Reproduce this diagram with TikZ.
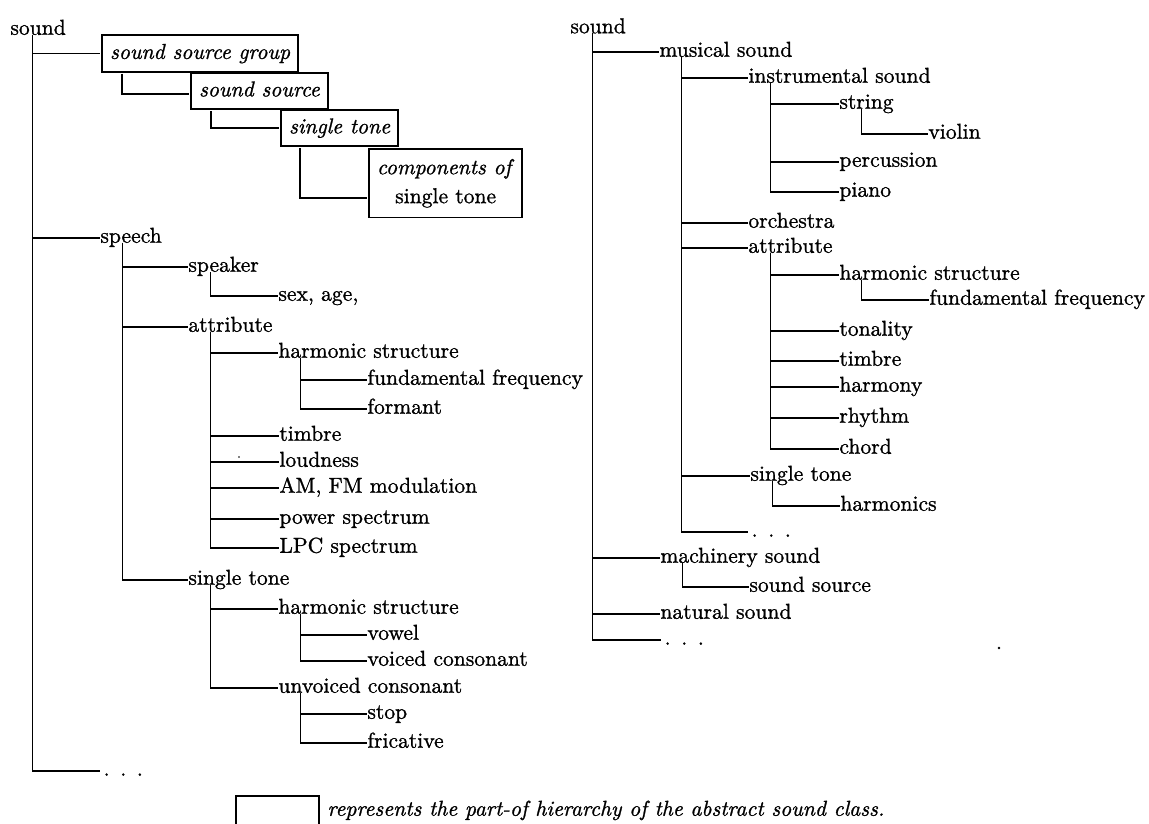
\documentclass[tikz,border=0pt]{standalone}
\usepackage{fontspec}
\setmainfont{Latin Modern Roman}[FakeBold=1.1]
\newcommand\moredots{\hskip1.5pt.\hskip4.9pt.\hskip4.9pt.}
\begin{document}
\begin{tikzpicture}[x=1pt,y=1pt,
  lbl/.style={anchor=west, inner sep=0pt, text height=6.4pt, text depth=2pt,
    scale=2.16, transform shape, font=\fontsize{10}{12}\selectfont},
  part/.style={draw, line width=1.9pt, anchor=west, inner xsep=3.7pt, inner ysep=3.9pt,
    text height=7pt, text depth=2pt, scale=2.16, transform shape,
    font=\fontsize{10}{12}\selectfont\itshape},
  link/.style={line width=1.8pt}]
\useasboundingbox (0,0) rectangle (1149,-824);

% ---------- left tree ----------
\node[lbl] (soundL) at (10,-30) {sound};
\node[part] (grp) at (100,-53.5) {sound source group};
\node[part] (src) at (189,-91) {sound source};
\node[part] (one) at (279,-128) {single tone};
\node[part, anchor=north west, align=center, inner ysep=4.6pt, text height=, text depth=,
  font=\fontsize{10}{13.4}\selectfont] (comp) at (367,-147)
  {\textit{components of}\\single tone};

\node[lbl] (speech) at (100,-238) {speech};
\node[lbl] (speaker) at (188,-267) {speaker};
\node[lbl] (sexage) at (278,-296) {sex, age,};
\node[lbl] (attrL) at (188,-327) {attribute};
\node[lbl] (harmL) at (278,-353) {harmonic structure};
\node[lbl] (fundL) at (367,-380) {fundamental frequency};
\node[lbl] (formant) at (367,-409) {formant};
\node[lbl] (timbreL) at (279,-436) {timbre};
\node[lbl] (loud) at (279,-462) {loudness};
\node[lbl] (amfm) at (279,-488) {AM, FM modulation};
\node[lbl] (power) at (279,-519) {power spectrum};
\node[lbl] (lpc) at (279,-548) {LPC spectrum};
\node[lbl] (toneL) at (188,-580) {single tone};
\node[lbl] (harmL2) at (278,-609) {harmonic structure};
\node[lbl] (vowel) at (367,-635) {vowel};
\node[lbl] (voiced) at (367,-661) {voiced consonant};
\node[lbl] (unvoiced) at (278,-688) {unvoiced consonant};
\node[lbl] (stop) at (367,-714) {stop};
\node[lbl] (fric) at (367,-743) {fricative};
\node[lbl] (dotsL) at (100,-771) {\moredots};

% ---------- right tree ----------
\node[lbl] (soundR) at (570,-28.5) {sound};
\node[lbl] (musical) at (659,-52) {musical sound};
\node[lbl] (instr) at (748,-78) {instrumental sound};
\node[lbl] (string) at (839,-104) {string};
\node[lbl] (violin) at (928,-134) {violin};
\node[lbl] (perc) at (839,-162) {percussion};
\node[lbl] (piano) at (839,-192) {piano};
\node[lbl] (orch) at (748,-223) {orchestra};
\node[lbl] (attrR) at (748,-248) {attribute};
\node[lbl] (harmR) at (839,-275) {harmonic structure};
\node[lbl] (fundR) at (929,-300) {fundamental frequency};
\node[lbl] (tonal) at (839,-331) {tonality};
\node[lbl] (timbreR) at (839,-361) {timbre};
\node[lbl] (harmony) at (839,-387) {harmony};
\node[lbl] (rhythm) at (839,-418) {rhythm};
\node[lbl] (chord) at (839,-449) {chord};
\node[lbl] (toneR) at (750,-476) {single tone};
\node[lbl] (harmonics) at (840,-506) {harmonics};
\node[lbl] (dotsR2) at (748,-532) {\moredots};
\node[lbl] (mach) at (660,-558) {machinery sound};
\node[lbl] (msrc) at (749,-587) {sound source};
\node[lbl] (natural) at (660,-614) {natural sound};
\node[lbl] (dotsR1) at (661,-640) {\moredots};

% ---------- connectors ----------
\foreach \p/\c in {soundL/grp, soundL/speech, soundL/dotsL,
    speech/speaker, speech/attrL, speech/toneL, speaker/sexage,
    attrL/harmL, attrL/timbreL, attrL/loud, attrL/amfm, attrL/power, attrL/lpc,
    harmL/fundL, harmL/formant, toneL/harmL2, toneL/unvoiced,
    harmL2/vowel, harmL2/voiced, unvoiced/stop, unvoiced/fric,
    soundR/musical, soundR/mach, soundR/natural, soundR/dotsR1,
    musical/instr, musical/orch, musical/attrR, musical/toneR, musical/dotsR2,
    instr/string, instr/perc, instr/piano, string/violin,
    attrR/harmR, attrR/tonal, attrR/timbreR, attrR/harmony, attrR/rhythm, attrR/chord,
    harmR/fundR, toneR/harmonics, mach/msrc}
  \draw[link] ([xshift=22.5pt]\p.base west) |- (\c.west);

\draw[link] ([xshift=22pt]grp.south west) |- ([yshift=-3pt]src.west);
\draw[link] ([xshift=22pt]src.south west) |- (one.west);
\draw[link] ([xshift=21pt]one.south west) |- ([yshift=-15pt]comp.west);

% ---------- legend ----------
\node[draw, line width=1.9pt, anchor=north west, minimum width=83pt, minimum height=45pt,
  inner sep=0pt] (key) at (235,-795) {};
\node[lbl, font=\fontsize{10}{12}\selectfont\itshape] (keytext) at (327,-811)
  {represents the part-of hierarchy of the abstract sound class.};

% specks on the page
\fill (999,-648) circle (1.3pt);
\fill (239,-457) circle (0.8pt);
\end{tikzpicture}
\end{document}
